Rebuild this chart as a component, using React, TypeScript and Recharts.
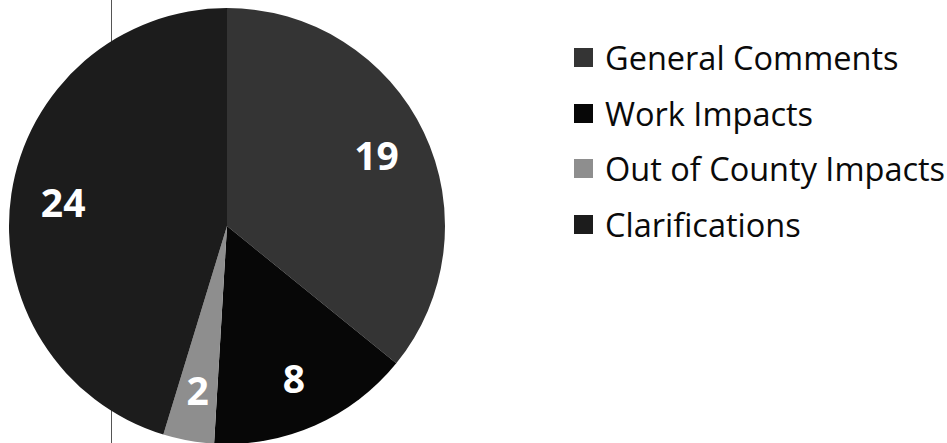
import React from 'react';
import { PieChart, Pie, Cell } from 'recharts';

const CATEGORIES = ['General Comments', 'Work Impacts', 'Out of County Impacts', 'Clarifications'];
const COUNTS = [19, 8, 2, 24];
const COLORS = ['#343434', '#070707', '#8e8e8e', '#1c1c1c'];

const data = CATEGORIES.map((name, i) => ({ name, value: COUNTS[i] }));

const RADIAN = Math.PI / 180;

const renderLabel = (props: any) => {
  const { cx, cy, midAngle, outerRadius, value } = props;
  const r = outerRadius * 0.76;
  const x = cx + r * Math.cos(-midAngle * RADIAN);
  const y = cy + r * Math.sin(-midAngle * RADIAN);
  return (
    <text
      x={x}
      y={y}
      fill="#ffffff"
      textAnchor="middle"
      dominantBaseline="central"
      style={{ fontFamily: '"Open Sans", sans-serif', fontSize: 39, fontWeight: 700 }}
    >
      {value}
    </text>
  );
};

// legend drawn by hand so it keeps data order and doesn't push the pie around
function PieLegend() {
  return (
    <ul style={{ position: 'absolute', left: 574, top: 30, listStyle: 'none', margin: 0, padding: 0 }}>
      {CATEGORIES.map((name, i) => (
        <li
          key={name}
          style={{ display: 'flex', alignItems: 'center', height: 55.5, fontFamily: '"Open Sans", sans-serif', fontSize: 32.5, color: '#0a0a0a', whiteSpace: 'nowrap' }}
        >
          <span style={{ display: 'inline-block', width: 19, height: 19, background: COLORS[i], marginRight: 12 }} />
          {name}
        </li>
      ))}
    </ul>
  );
}

export default function App() {
  return (
    <div style={{ position: 'absolute', top: 0, left: 0, width: 947, height: 443, background: '#fff', overflow: 'hidden' }}>
      {/* scanner border line behind the pie */}
      <div style={{ position: 'absolute', left: 111, top: 0, width: 1, height: 443, background: '#555' }} />
      <div style={{ position: 'absolute', top: 0, left: 0 }}>
        <PieChart width={947} height={443} margin={{ top: 0, right: 0, bottom: 0, left: 0 }}>
          <Pie
            data={data}
            dataKey="value"
            nameKey="name"
            cx={227}
            cy={226}
            outerRadius={218}
            startAngle={90}
            endAngle={-270}
            stroke="none"
            label={renderLabel}
            labelLine={false}
            isAnimationActive={false}
          >
            {data.map((entry, index) => (
              <Cell key={`cell-${index}`} fill={COLORS[index]} />
            ))}
          </Pie>
        </PieChart>
      </div>
      <PieLegend />
    </div>
  );
}
